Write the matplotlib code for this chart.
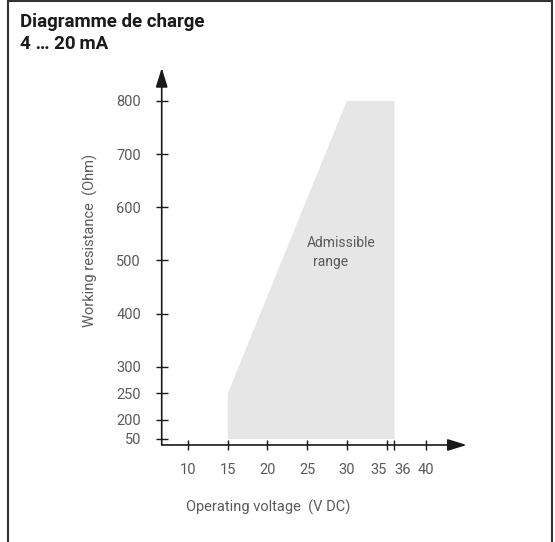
import matplotlib.pyplot as plt
import matplotlib.patches as patches
import numpy as np

# data
volt_ticks = [10, 15, 20, 25, 30, 35, 36, 40]
res_ticks = [50, 200, 250, 300, 400, 500, 600, 700, 800]

# admissible range polygon (V DC, Ohm)
range_volt = [15, 15, 30, 36, 36]
range_res = [50, 250, 800, 800, 50]

# broken y scale: 50..200 is squeezed
K = 0.238


def fwd(v):
    return np.interp(v, [-1000, 200, 5000], [200 - 1200 * K, 200, 5000])


def inv(f):
    return np.interp(f, [200 - 1200 * K, 200, 5000], [-1000, 200, 5000])


plt.rcParams['font.family'] = ['Roboto', 'DejaVu Sans']
grey = '#5a5a5a'
dark = '#1a1a1a'

fig = plt.figure(figsize=(5.55, 5.42), dpi=100)
ax = fig.add_axes([0.2914, 0.179, 0.5495, 0.6956])
ax.set_yscale('function', functions=(fwd, inv))
ax.set_xlim(6.68, 45.1)
ax.set_ylim(2.5, 862)

ax.fill(range_volt, range_res, color='#e6e6e6', lw=0)
ax.text(24.9, 533, 'Admissible', color=grey, fontsize=10, va='center', ha='left')
ax.text(25.8, 497, 'range', color=grey, fontsize=10, va='center', ha='left')

for s in ax.spines.values():
    s.set_visible(False)

arrow = dict(arrowstyle='-|>,head_length=0.58,head_width=0.18', color=dark,
             lw=1.2, mutation_scale=20, shrinkA=0, shrinkB=0)
ax.annotate('', xy=(0, 1), xytext=(0, 0), xycoords='axes fraction', arrowprops=arrow)
ax.annotate('', xy=(1, 0), xytext=(0, 0), xycoords='axes fraction', arrowprops=arrow)

ax.set_xticks(volt_ticks)
ax.set_xticklabels([str(v) for v in volt_ticks])
ax.set_yticks(res_ticks)
ax.set_yticklabels([str(v) for v in res_ticks])
ax.minorticks_off()
ax.tick_params(axis='y', direction='inout', length=8, width=1, color=dark,
               labelcolor=grey, labelsize=10.5, pad=11)
ax.tick_params(axis='x', direction='inout', length=7.5, width=1, color=dark,
               labelcolor=grey, labelsize=10.5, pad=9)

# 35 and 36 sit close together: push them apart
xl = ax.get_xticklabels()
xl[volt_ticks.index(35)].set_ha('right')
xl[volt_ticks.index(36)].set_ha('left')

fig.text(90 / 555, 1 - 240 / 542, 'Working resistance  (Ohm)', rotation=90,
         color=grey, fontsize=10.5, ha='center', va='center')
fig.text(268 / 555, 1 - 507 / 542, 'Operating voltage  (V DC)',
         color=grey, fontsize=10.5, ha='center', va='center')

fig.text(20 / 555, 1 - 27 / 542, 'Diagramme de charge', fontsize=13.5,
         fontweight='bold', color=dark, va='baseline')
fig.text(20 / 555, 1 - 49 / 542, '4 … 20\u2009mA', fontsize=13.5,
         fontweight='bold', color=dark, va='baseline')

# frame around the whole card
fig.add_artist(patches.Rectangle((8 / 555, -0.05), 544 / 555, 1.05 - 1 / 542,
                                 transform=fig.transFigure, fill=False,
                                 edgecolor='#333333', lw=1.5))

fig.savefig('out.png', dpi=100)
